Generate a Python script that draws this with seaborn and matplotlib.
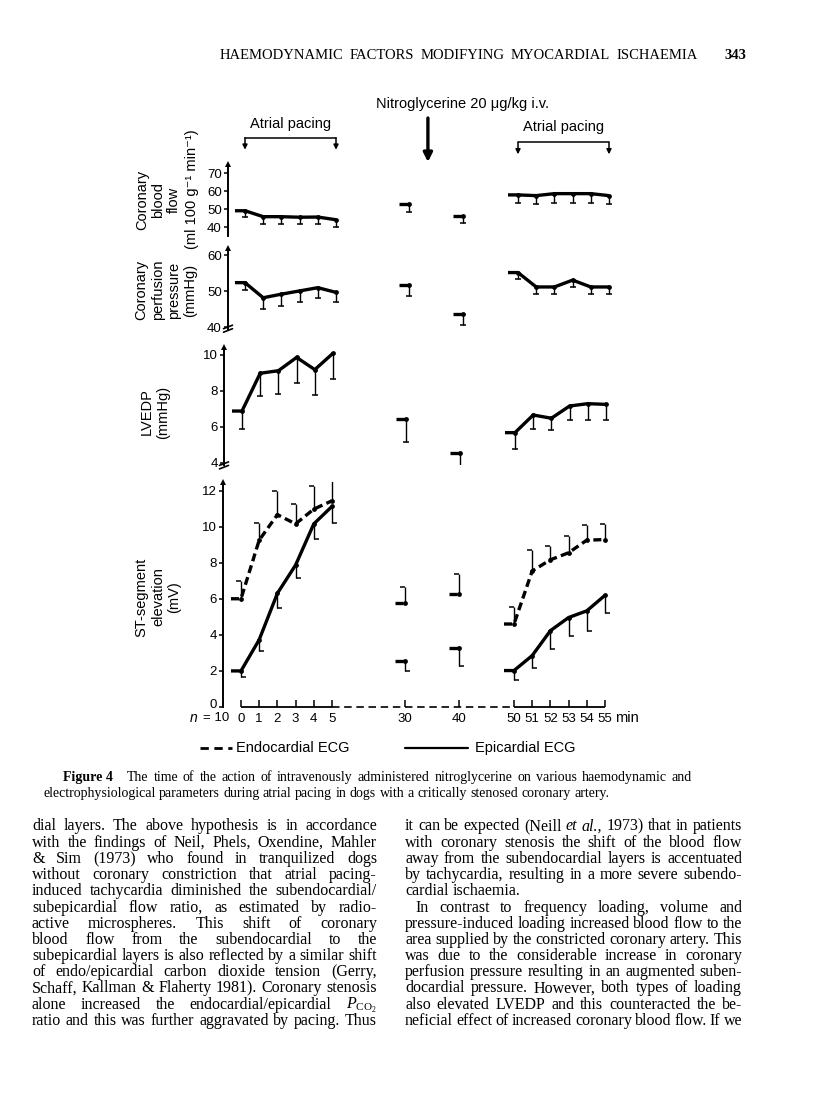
import numpy as np
import pandas as pd
import matplotlib
matplotlib.use("Agg")
import matplotlib.pyplot as plt
import matplotlib.transforms as mtransforms
from matplotlib.lines import Line2D
import seaborn as sns

# ---------------- data ----------------
minutes = [0, 1, 2, 3, 4, 5, 30, 40, 50, 51, 52, 53, 54, 55]
minute_labels = ["0", "1", "2", "3", "4", "5", "30", "40", "50", "51", "52", "53", "54", "55"]
axis_pos = [0, 1, 2, 3, 4, 5, 9, 12, 15, 16, 17, 18, 19, 20]   # broken time axis
segment = [0, 0, 0, 0, 0, 0, 1, 2, 3, 3, 3, 3, 3, 3]

flow_mean = [49.2, 45.9, 45.9, 45.6, 45.7, 44.2, 52.9, 46.3, 58.0, 57.6, 58.7, 58.7, 58.7, 57.6]
flow_err = [3.7, 4.0, 4.0, 3.8, 3.9, 3.9, 4.6, 4.0, 4.7, 4.8, 5.2, 5.2, 5.2, 4.6]
perf_mean = [52.4, 48.2, 49.2, 50.1, 51.0, 49.7, 51.7, 43.6, 55.2, 51.2, 51.2, 53.1, 51.2, 51.2]
perf_err = [2.0, 3.1, 3.2, 3.2, 2.8, 2.8, 3.0, 3.0, 1.9, 2.0, 2.0, 1.9, 2.0, 2.0]
lvedp_mean = [6.87, 8.97, 9.11, 9.85, 9.17, 10.08, 6.43, 4.52, 5.67, 6.65, 6.47, 7.15, 7.28, 7.24]
lvedp_err = [1.0, 1.25, 1.3, 1.4, 1.4, 1.45, 1.26, 0.87, 0.9, 0.8, 0.67, 0.78, 0.9, 0.87]
endo_mean = [6.0, 9.25, 10.66, 10.15, 10.97, 11.43, 5.75, 6.25, 4.6, 7.54, 8.16, 8.55, 9.25, 9.28]
endo_err = [1.0, 0.95, 1.3, 1.1, 1.3, 1.35, 0.92, 1.14, 0.95, 1.14, 0.76, 0.92, 0.86, 0.89]
epi_mean = [2.0, 3.73, 6.3, 7.87, 10.15, 11.12, 2.57, 3.25, 2.02, 2.85, 4.23, 4.96, 5.33, 6.19]
epi_err = [0.31, 0.6, 0.79, 0.7, 0.83, 0.92, 0.55, 1.0, 0.52, 0.7, 1.0, 1.04, 1.1, 1.0]

flow_ticks = [40, 50, 60, 70]
perf_ticks = [40, 50, 60]
lvedp_ticks = [4, 6, 8, 10]
st_ticks = [0, 2, 4, 6, 8, 10, 12]

header_text = "HAEMODYNAMIC FACTORS MODIFYING MYOCARDIAL ISCHAEMIA"
page_number = "343"
drug_text = "Nitroglycerine 20 \u03bcg/kg i.v."
pacing_text = "Atrial pacing"
legend_labels = ["Endocardial ECG", "Epicardial ECG"]
caption_label = "Figure 4"
caption_lines = [
    "The time of the action of intravenously administered nitroglycerine on various haemodynamic and",
    "electrophysiological parameters during atrial pacing in dogs with a critically stenosed coronary artery.",
]
left_column = [
    "dial layers. The above hypothesis is in accordance",
    "with the findings of Neil, Phels, Oxendine, Mahler",
    "& Sim (1973) who found in tranquilized dogs",
    "without coronary constriction that atrial pacing-",
    "induced tachycardia diminished the subendocardial/",
    "subepicardial flow ratio, as estimated by radio-",
    "active microspheres. This shift of coronary",
    "blood flow from the subendocardial to the",
    "subepicardial layers is also reflected by a similar shift",
    "of endo/epicardial carbon dioxide tension (Gerry,",
    "Schaff, Kallman & Flaherty 1981). Coronary stenosis",
    "alone increased the endocardial/epicardial $P_{\\mathrm{CO}_2}$",
    "ratio and this was further aggravated by pacing. Thus",
]
right_column = [
    "it can be expected (Neill ~et ~al., 1973) that in patients",
    "with coronary stenosis the shift of the blood flow",
    "away from the subendocardial layers is accentuated",
    "by tachycardia, resulting in a more severe subendo-",
    "cardial ischaemia.",
    "In contrast to frequency loading, volume and",
    "pressure-induced loading increased blood flow to the",
    "area supplied by the constricted coronary artery. This",
    "was due to the considerable increase in coronary",
    "perfusion pressure resulting in an augmented suben-",
    "docardial pressure. However, both types of loading",
    "also elevated LVEDP and this counteracted the be-",
    "neficial effect of increased coronary blood flow. If we",
]
right_not_justified = [4]
right_indented = [5]

# ---------------- style ----------------
sns.set_theme(style="white", rc={
    "axes.edgecolor": "black", "text.color": "black",
    "xtick.color": "black", "ytick.color": "black", "axes.labelcolor": "black",
})
plt.rcParams["font.family"] = ["Liberation Sans", "DejaVu Sans"]
plt.rcParams["mathtext.fontset"] = "custom"
plt.rcParams["mathtext.rm"] = "Liberation Serif"
plt.rcParams["mathtext.it"] = "Liberation Serif:italic"

W, H = 816, 1113
fig = plt.figure(figsize=(W / 100, H / 100), dpi=100)
fig.patch.set_facecolor("white")

PX = 18.2       # pixels per position unit
AX_W = 400


def fx(px):
    return px / W


def fy(py):
    return 1 - py / H


def add_ax(left, top, height, pos0):
    ax = fig.add_axes([left / W, 1 - (top + height) / H, AX_W / W, height / H])
    xmin = -(pos0 - left) / PX
    ax.set_xlim(xmin, xmin + AX_W / PX)
    ax.patch.set_alpha(0)
    return ax


def style_y(ax, ylim, ticks, bounds=None, brk=False):
    ax.set_ylim(*ylim)
    for s in ["top", "right", "bottom"]:
        ax.spines[s].set_visible(False)
    ax.spines["left"].set_linewidth(1.4)
    ax.spines["left"].set_color("black")
    if bounds is not None:
        ax.spines["left"].set_bounds(*bounds)
    ax.set_yticks(ticks)
    ax.set_yticklabels([str(t) for t in ticks])
    ax.tick_params(axis="y", direction="out", length=3, width=1.1, labelsize=9.5,
                   pad=1.5, left=True, colors="black")
    ax.set_xlabel("")
    ax.set_ylabel("")
    ytop = 1.0 if bounds is None else (bounds[1] - ylim[0]) / (ylim[1] - ylim[0])
    ax.plot([0], [ytop], marker="^", ms=4.5, color="black", transform=ax.transAxes,
            clip_on=False, mew=0)
    if brk:
        ybot = 0.0 if bounds is None else (bounds[0] - ylim[0]) / (ylim[1] - ylim[0])
        tr = fig.dpi_scale_trans + mtransforms.ScaledTranslation(0, ybot, ax.transAxes)
        for dy in (0.0, 0.035):
            ax.add_line(Line2D([-0.045, 0.045], [-0.035 + dy, 0.0 + dy], transform=tr,
                               color="black", lw=1.2, clip_on=False))


LEAD = 0.55


def draw_series(ax, mean, err, direction="down", dashed=False, cap="center"):
    df = pd.DataFrame({"pos": axis_pos, "val": mean, "seg": segment})
    lead = df.groupby("seg", as_index=False).first()
    lead["pos"] = lead["pos"] - LEAD
    d = pd.concat([lead, df], ignore_index=True).sort_values(["seg", "pos"])
    n0 = len(ax.lines)
    sns.lineplot(data=d, x="pos", y="val", units="seg", estimator=None, sort=False,
                 color="black", lw=2.4, ax=ax, legend=False)
    for ln in ax.lines[n0:]:
        ln.set_solid_capstyle("butt")
        ln.set_solid_joinstyle("round")
        if dashed:
            ln.set_dashes([2.4, 1.3])
            ln.set_dash_capstyle("butt")
    x = np.array(axis_pos, dtype=float)
    m = np.array(mean)
    e = np.array(err)
    if direction == "down":
        lo, hi, capy = m - e, m, m - e
    else:
        lo, hi, capy = m, m + e, m + e
    ax.vlines(x, lo, hi, color="black", lw=1.0)
    if cap == "center":
        ax.plot(x, capy, ls="none", marker="_", ms=4, mew=1.1, color="black")
    else:
        verts = [(0, 0), (-1, 0)] if cap == "left" else [(0, 0), (1, 0)]
        ax.plot(x, capy, ls="none", marker=verts, ms=7, mew=1.1, color="black")
    sns.scatterplot(x=axis_pos, y=mean, color="black", s=12, linewidth=0, ax=ax,
                    zorder=4, legend=False)
    ax.set_xlabel("")
    ax.set_ylabel("")


# ---------------- panels ----------------
ax1 = add_ax(228, 164.3, 72.0, 245)
draw_series(ax1, flow_mean, flow_err)
style_y(ax1, (35, 75), flow_ticks)
ax1.set_xticks([])

ax2 = add_ax(228, 248.1, 80.6, 245)
draw_series(ax2, perf_mean, perf_err)
style_y(ax2, (39.6, 62), perf_ticks, brk=True)
ax2.set_xticks([])

ax3 = add_ax(224, 346.6, 118.8, 242)
draw_series(ax3, lvedp_mean, lvedp_err)
style_y(ax3, (3.85, 10.45), lvedp_ticks, brk=True)
ax3.set_xticks([])

ax4 = add_ax(223, 482.4, 226.4, 241)
draw_series(ax4, endo_mean, endo_err, direction="up", dashed=True, cap="left")
draw_series(ax4, epi_mean, epi_err, direction="down", cap="right")
style_y(ax4, (-0.1, 12.45), st_ticks, bounds=(0, 12.45))
ax4.spines["bottom"].set_position(("data", 0))
ax4.spines["bottom"].set_visible(False)
ax4.set_xticks(axis_pos)
ax4.set_xticklabels(minute_labels)
ax4.tick_params(axis="x", direction="in", length=5, width=1.1, labelsize=9.5, pad=4.5,
                bottom=True, colors="black")
# lift the "0" of the ST axis a little so it clears the n = 10 row
zero_lab = ax4.get_yticklabels()[0]
zero_lab.set_transform(zero_lab.get_transform()
                       + mtransforms.ScaledTranslation(0, 0.035, fig.dpi_scale_trans))
# broken time axis line
rng = pd.DataFrame({"pos": axis_pos, "seg": segment}).groupby("seg")["pos"].agg(["min", "max"])
solid = rng[rng["max"] > rng["min"]]
for _, r in solid.iterrows():
    ax4.plot([r["min"], r["max"]], [0, 0], color="black", lw=1.3, clip_on=False,
             solid_capstyle="butt")
ax4.plot([solid["max"].iloc[0], solid["min"].iloc[-1]], [0, 0], color="black", lw=1.2,
         ls=(0, (4.5, 2.8)), clip_on=False)

fig.text(fx(198), fy(718), "n", fontsize=10, style="italic", ha="right", va="center")
fig.text(fx(229), fy(718), "= 10", fontsize=9.5, ha="right", va="center")
fig.text(fx(615), fy(718), "min", fontsize=10.5, ha="left", va="center")

# ---------------- y labels ----------------
lab = dict(rotation=90, ha="center", va="center", multialignment="center",
           fontsize=10.5, linespacing=1.2)
fig.text(fx(158), fy(200), "Coronary\nblood\nflow", **lab)
fig.text(fx(192), fy(189), "(ml 100 g\u207b\u00b9 min\u207b\u00b9)", **lab)
fig.text(fx(166), fy(290), "Coronary\nperfusion\npressure\n(mmHg)", **lab)
fig.text(fx(155), fy(412), "LVEDP\n(mmHg)", **lab)
fig.text(fx(158), fy(597), "ST-segment\nelevation\n(mV)", **lab)

# ---------------- top annotations ----------------
fig.text(fx(463), fy(104), drug_text, fontsize=10.5, ha="center", va="center")
seg_rng = rng.loc[[0, 3]]
for i, (_, r) in enumerate(seg_rng.iterrows()):
    ybar = 137.7 if i == 0 else 142.3
    ytxt = 124.3 if i == 0 else 126.7
    ax1.annotate(pacing_text, xy=((r["min"] + r["max"]) / 2, fy(ytxt)),
                 xycoords=("data", "figure fraction"), ha="center", va="center",
                 fontsize=10.5, annotation_clip=False)
    ax1.add_line(Line2D([r["min"], r["max"]], [fy(ybar), fy(ybar)], color="black", lw=1.1,
                        transform=mtransforms.blended_transform_factory(ax1.transData, fig.transFigure),
                        clip_on=False))
    for xe in (r["min"], r["max"]):
        ax1.annotate("", xy=(xe, fy(ybar + 12)), xytext=(xe, fy(ybar)),
                     xycoords=("data", "figure fraction"), textcoords=("data", "figure fraction"),
                     arrowprops=dict(arrowstyle="-|>", lw=1.1, color="black", mutation_scale=7,
                                     shrinkA=0, shrinkB=0), annotation_clip=False)
ax1.annotate("", xy=(10.05, fy(162)), xytext=(10.05, fy(118)),
             xycoords=("data", "figure fraction"), textcoords=("data", "figure fraction"),
             arrowprops=dict(arrowstyle="-|>", lw=2.4, color="black", mutation_scale=13,
                             shrinkA=0, shrinkB=0), annotation_clip=False)

# ---------------- legend ----------------
fig.add_artist(Line2D([fx(200), fx(232)], [fy(748), fy(748)], color="black", lw=2.0,
                      dashes=(3.0, 2.0), transform=fig.transFigure))
fig.text(fx(236), fy(748), legend_labels[0], fontsize=10.5, ha="left", va="center")
fig.add_artist(Line2D([fx(405), fx(468)], [fy(748), fy(748)], color="black", lw=1.6,
                      transform=fig.transFigure))
fig.text(fx(475), fy(748), legend_labels[1], fontsize=10.5, ha="left", va="center")

# ---------------- page text ----------------
SERIF = ["Liberation Serif", "DejaVu Serif"]
renderer = fig.canvas.get_renderer()


def set_line(tokens, x0, x1, ybase, size, justify=True, first=None, first_gap=0):
    """tokens: list of (word, kwargs). Places words on one line, justified to x0..x1."""
    texts = []
    start = x0
    if first is not None:
        ft = fig.text(fx(x0), fy(ybase), first[0], fontsize=size, family=SERIF,
                      va="baseline", ha="left", **first[1])
        start = x0 + ft.get_window_extent(renderer).width + first_gap
    for w, kw in tokens:
        texts.append(fig.text(0, 0, w, fontsize=size, family=SERIF, va="baseline",
                              ha="left", **kw))
    space = size * 100 / 72 * 0.25

    def widths():
        return [t.get_window_extent(renderer).width for t in texts]

    ws = widths()
    avail = x1 - start
    n = len(texts)
    if justify and n > 1:
        minimum = sum(ws) + (n - 1) * space * 0.45
        if minimum > avail:
            f = (avail - (n - 1) * space * 0.45) / sum(ws)
            for t in texts:
                t.set_fontsize(size * f)
            ws = widths()
        gap = (avail - sum(ws)) / (n - 1)
    else:
        gap = space
    x = start
    for t, w in zip(texts, ws):
        t.set_position((fx(x), fy(ybase)))
        x += w + gap


def tokens_of(line):
    out = []
    for w in line.split(" "):
        if w.startswith("~"):
            out.append((w[1:], {"style": "italic"}))
        else:
            out.append((w, {}))
    return out


# header
set_line(tokens_of(header_text), 220, 698, 59, 10.5)
fig.text(fx(746), fy(59), page_number, fontsize=10.5, family=SERIF, weight="bold",
         ha="right", va="baseline")

# caption
set_line(tokens_of(caption_lines[0]), 63, 692, 781, 10,
         first=(caption_label, {"weight": "bold"}), first_gap=14)
set_line(tokens_of(caption_lines[1]), 43, 722, 797, 10, justify=False)

# body columns
for k, line in enumerate(left_column):
    set_line(tokens_of(line), 32, 377, 830.5 + 16.2 * k, 11.5)
for k, line in enumerate(right_column):
    x0 = 415 if k in right_indented else 405
    set_line(tokens_of(line), x0, 742, 830.5 + 16.2 * k, 11.5,
             justify=k not in right_not_justified)

fig.savefig("out.png", dpi=100, facecolor="white")
